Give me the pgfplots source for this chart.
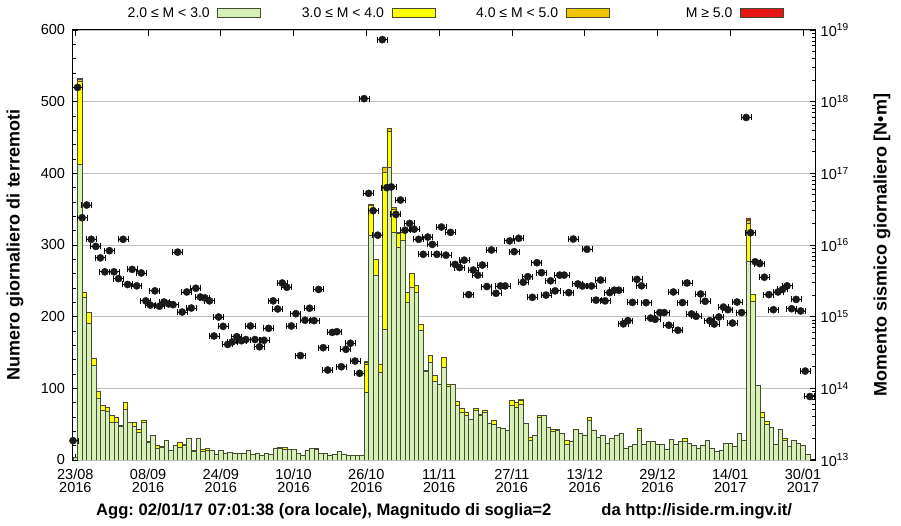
\documentclass[border=0pt]{standalone}
\usepackage{fontspec}
\setmainfont{Liberation Sans}
\usepackage{pgfplots}
\usepackage{pgfplotstable}
\pgfplotsset{compat=1.18}
\definecolor{cgreen}{RGB}{214,240,182}
\definecolor{cyellow}{RGB}{255,255,0}
\definecolor{cgold}{RGB}{242,196,0}
\definecolor{cred}{RGB}{228,22,22}
\definecolor{cbord}{RGB}{70,75,55}
\pgfplotsset{boxlegend/.style={legend image code/.code={\draw[##1] (0pt,-4.5pt) rectangle (43pt,4.5pt);}}}

\pgfplotstableread{
d g y o r
0 4 0 0 0
1 412 116 3 2
2 227 7 0 0
3 191 15 0 0
4 132 10 0 0
5 86 10 0 0
6 70 6 0 0
7 68 5 0 0
8 53 9 0 0
9 52 7 0 0
10 47 0 1 0
11 71 10 0 0
12 52 0 0 0
13 47 6 0 0
14 39 4 0 0
15 52 4 0 0
16 25 0 1 0
17 35 0 0 0
18 17 3 0 0
19 18 0 1 0
20 27 0 0 0
21 14 0 0 0
22 21 0 0 0
23 18 7 0 0
24 21 0 1 0
25 31 0 0 0
26 12 0 1 0
27 30 0 0 0
28 12 3 0 0
29 13 3 0 0
30 14 0 0 0
31 8 0 0 0
32 13 0 0 0
33 10 0 0 0
34 11 0 0 0
35 10 0 0 0
36 9 0 0 0
37 9 0 0 0
38 14 0 0 0
39 8 0 0 0
40 9 0 0 0
41 7 0 0 0
42 9 0 0 0
43 8 0 0 0
44 17 0 0 0
45 16 2 0 0
46 15 3 0 0
47 15 0 0 0
48 15 0 0 0
49 9 0 0 0
50 7 0 0 0
51 14 0 0 0
52 16 0 0 0
53 15 0 1 0
54 9 0 0 0
55 10 0 0 0
56 7 0 0 0
57 8 0 0 0
58 12 0 0 0
59 8 0 0 0
60 6 0 0 0
61 7 0 0 0
62 7 0 0 0
63 7 0 0 0
64 95 38 3 2
65 313 42 2 0
66 258 22 0 0
67 123 10 0 0
68 182 220 6 1
69 409 50 4 0
70 318 32 2 0
71 297 19 2 0
72 307 11 0 0
73 220 14 0 0
74 241 20 0 0
75 234 10 0 0
76 181 8 0 0
77 124 0 1 0
78 137 9 0 0
79 110 8 0 0
80 106 0 0 0
81 130 13 0 0
82 103 2 0 0
83 105 0 0 0
84 76 6 0 0
85 67 5 0 0
86 62 5 0 0
87 57 0 0 0
88 69 3 0 0
89 63 0 1 0
90 66 4 0 0
91 51 0 0 0
92 50 6 0 0
93 46 0 0 0
94 44 0 0 0
95 41 0 0 0
96 77 7 0 0
97 74 7 0 0
98 78 6 1 0
99 51 0 0 0
100 27 5 0 0
101 34 0 0 0
102 59 3 0 0
103 63 0 0 0
104 45 0 0 0
105 40 3 0 0
106 41 2 0 0
107 37 0 0 0
108 22 6 0 0
109 26 0 0 0
110 43 0 0 0
111 37 0 0 0
112 35 0 0 0
113 55 4 0 0
114 41 0 0 0
115 32 0 0 0
116 34 0 0 0
117 23 0 0 0
118 30 0 0 0
119 35 0 0 0
120 37 0 0 0
121 17 0 0 0
122 19 0 0 0
123 22 0 0 0
124 41 3 0 0
125 22 0 0 0
126 26 0 0 0
127 26 0 0 0
128 22 0 0 0
129 22 0 0 0
130 15 0 0 0
131 29 0 0 0
132 22 0 0 0
133 26 0 0 0
134 26 4 0 0
135 23 0 0 0
136 21 0 0 0
137 16 0 0 0
138 21 0 0 0
139 28 0 0 0
140 16 0 0 0
141 12 0 0 0
142 14 0 0 0
143 23 0 0 0
144 23 0 0 0
145 19 0 0 0
146 37 0 0 0
147 27 0 0 0
148 277 53 4 4
149 222 9 0 0
150 104 0 0 0
151 60 7 0 0
152 50 4 0 0
153 46 0 0 0
154 22 0 0 0
155 43 0 0 0
156 28 3 0 0
157 19 0 0 0
158 27 0 0 0
159 23 0 0 0
160 21 0 0 0
161 8 0 0 0
}\bars

\pgfplotstableread{
x M
-0.5 1.86e13
0.5 1.58e18
1.5 2.40e16
2.5 3.61e16
3.5 1.20e16
4.5 9.55e15
5.5 6.61e15
6.5 4.22e15
7.5 8.32e15
8.5 4.22e15
9.5 3.39e15
10.5 1.20e16
11.5 2.81e15
12.5 4.57e15
13.5 2.69e15
14.5 4.07e15
15.5 1.66e15
16.5 1.45e15
17.5 2.29e15
18.5 1.40e15
19.5 1.60e15
20.5 1.51e15
21.5 1.47e15
22.5 7.94e15
23.5 1.16e15
24.5 2.21e15
25.5 1.32e15
26.5 2.49e15
27.5 1.88e15
28.5 1.82e15
29.5 1.66e15
30.5 5.37e14
31.5 9.89e14
32.5 7.33e14
33.5 4.10e14
34.5 4.43e14
35.5 5.25e14
36.5 4.61e14
37.5 4.79e14
38.5 7.41e14
39.5 4.79e14
40.5 3.80e14
41.5 4.68e14
42.5 6.87e14
43.5 1.66e15
44.5 1.28e15
45.5 2.95e15
46.5 2.57e15
47.5 7.41e14
48.5 1.10e15
49.5 2.86e14
50.5 8.91e14
51.5 1.31e15
52.5 8.79e14
53.5 2.40e15
54.5 3.69e14
55.5 1.80e14
56.5 6.03e14
57.5 6.17e14
58.5 2.00e14
59.5 3.50e14
60.5 4.25e14
61.5 2.40e14
62.5 1.62e14
63.5 1.10e18
64.5 5.25e16
65.5 3.01e16
66.5 1.37e16
67.5 7.33e18
68.5 6.31e16
69.5 6.46e16
70.5 2.67e16
71.5 4.24e16
72.5 1.61e16
73.5 2.00e16
74.5 1.66e16
75.5 1.20e16
76.5 7.41e15
77.5 1.29e16
78.5 1.02e16
79.5 7.41e15
80.5 1.78e16
81.5 7.21e15
82.5 1.50e16
83.5 5.37e15
84.5 4.84e15
85.5 6.14e15
86.5 2.03e15
87.5 4.47e15
88.5 3.80e15
89.5 5.25e15
90.5 2.63e15
91.5 8.51e15
92.5 2.12e15
93.5 2.68e15
94.5 2.68e15
95.5 1.14e16
96.5 8.07e15
97.5 1.24e16
98.5 3.02e15
99.5 3.61e15
100.5 1.86e15
101.5 5.66e15
102.5 4.11e15
103.5 2.00e15
104.5 3.16e15
105.5 2.29e15
106.5 3.80e15
107.5 3.80e15
108.5 2.16e15
109.5 1.21e16
110.5 2.86e15
111.5 2.68e15
112.5 8.71e15
113.5 2.68e15
114.5 1.70e15
115.5 3.24e15
116.5 1.66e15
117.5 2.16e15
118.5 2.34e15
119.5 2.34e15
120.5 7.94e14
121.5 8.79e14
122.5 1.58e15
123.5 3.31e15
124.5 2.69e15
125.5 1.57e15
126.5 9.55e14
127.5 9.18e14
128.5 1.14e15
129.5 1.14e15
130.5 7.59e14
131.5 2.21e15
132.5 6.46e14
133.5 1.57e15
134.5 2.95e15
135.5 1.09e15
136.5 1.01e15
137.5 2.07e15
138.5 1.64e15
139.5 8.79e14
140.5 7.89e14
141.5 9.89e14
142.5 1.36e15
143.5 1.25e15
144.5 8.13e14
145.5 1.60e15
146.5 1.14e15
147.5 6.01e17
148.5 1.48e16
149.5 5.82e15
150.5 5.50e15
151.5 3.55e15
152.5 2.03e15
153.5 1.25e15
154.5 2.21e15
155.5 2.40e15
156.5 2.69e15
157.5 1.29e15
158.5 1.74e15
159.5 1.20e15
160.5 1.74e14
161.5 7.69e13
}\moment

\begin{document}
\frenchspacing
\begin{tikzpicture}
\useasboundingbox (-72.5pt,-66pt) rectangle (828.5pt,460pt);
\begin{axis}[
  at={(0pt,0pt)}, anchor=south west,
  scale only axis, width=743.2pt, height=430pt,
  xmin=-0.62, xmax=162.8, ymin=0, ymax=600,
  ybar stacked, bar width=1,
  /pgf/number format/assume math mode=true,
  ytick={0,100,...,600}, minor y tick num=4, ytick pos=left,
  xtick={0,16,...,160},
  xticklabels={{23/08\\2016},{08/09\\2016},{24/09\\2016},{10/10\\2016},{26/10\\2016},{11/11\\2016},{27/11\\2016},{13/12\\2016},{29/12\\2016},{14/01\\2017},{30/01\\2017}},
  xticklabel style={align=center, font=\fontsize{14.5}{13.5}\selectfont, yshift=-5pt},
  yticklabel style={font=\fontsize{14.5}{16}\selectfont, xshift=-4pt},
  tick align=inside, major tick length=6pt, minor tick length=3.5pt,
  every tick/.style={black, line width=0.8pt},
  axis line style={line width=1pt},
  ymajorgrids, grid style={gray!50, line width=0.8pt},
  ylabel={Numero giornaliero di terremoti},
  ylabel style={at={(axis description cs:-0.0774,0.5)}, anchor=center, font=\bfseries\fontsize{18}{20}\selectfont},
  xlabel={Agg: 02/01/17 07:01:38 (ora locale), Magnitudo di soglia=2\hspace{50pt}da http://iside.rm.ingv.it/},
  xlabel style={at={(axis description cs:0.5,-0.1186)}, anchor=center, font=\bfseries\fontsize{16.6}{18}\selectfont},
  legend plot pos=right,
  legend style={draw=none, fill=none, at={(0.957,1.0395)}, anchor=east, legend columns=4, inner sep=0pt,
    font=\fontsize{14}{16}\selectfont,
    nodes={inner sep=0pt},
    /tikz/every odd column/.append style={column sep=7.7pt},
    /tikz/every even column/.append style={column sep=37pt}},
]
\addplot[fill=cgreen, draw=cbord, line width=0.5pt, boxlegend] table[x=d,y=g]{\bars};
\addplot[fill=cyellow, draw=cbord, line width=0.5pt, boxlegend] table[x=d,y=y]{\bars};
\addplot[fill=cgold, draw=cbord, line width=0.5pt, boxlegend] table[x=d,y=o]{\bars};
\addplot[fill=cred, draw=cbord, line width=0.5pt, boxlegend] table[x=d,y=r]{\bars};
\legend{\makebox[86pt][r]{2.0 ≤ M < 3.0}, \makebox[86pt][r]{3.0 ≤ M < 4.0}, \makebox[86pt][r]{4.0 ≤ M < 5.0}, \makebox[86pt][r]{M ≥ 5.0}}
\end{axis}
\begin{axis}[
  at={(0pt,0pt)}, anchor=south west,
  scale only axis, width=743.2pt, height=430pt,
  xmin=-0.62, xmax=162.8, ymode=log, ymin=1e13, ymax=1e19,
  axis x line=none, axis y line*=right,
  tick align=inside, major tick length=6pt, minor tick length=3.5pt,
  every tick/.style={black, line width=0.8pt},
  axis line style={line width=1pt},
  ytick={1e13,1e14,1e15,1e16,1e17,1e18,1e19},
  yticklabels={10\textsuperscript{13},10\textsuperscript{14},10\textsuperscript{15},10\textsuperscript{16},10\textsuperscript{17},10\textsuperscript{18},10\textsuperscript{19}},
  yticklabel style={font=\fontsize{14.5}{16}\selectfont, xshift=1.5pt},
  ylabel={Momento sismico giornaliero [N•m]},
  ylabel style={at={(axis description cs:1.0892,0.5)}, anchor=center, font=\bfseries\fontsize{18}{20}\selectfont},
  clip mode=individual,
]
\addplot[only marks, mark=*, mark size=3.6pt, color=black!90,
  error bars/.cd, x dir=both, x fixed=1.1, error mark=|,
  error bar style={line width=0.9pt, black},
  error mark options={mark size=3pt, line width=0.9pt, black}]
  table[x=x,y=M]{\moment};
\end{axis}
\end{tikzpicture}
\end{document}
